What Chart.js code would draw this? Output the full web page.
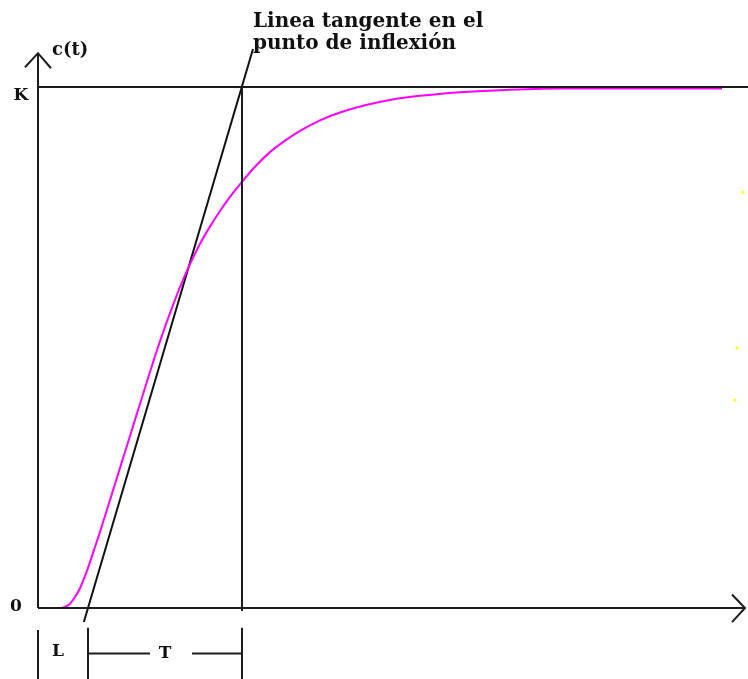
<!DOCTYPE html>
<html>
<head>
<meta charset="utf-8">
<script src="https://cdn.jsdelivr.net/npm/chart.js@4/dist/chart.umd.min.js"></script>
<style>
html,body{margin:0;padding:0;background:#fff;}
#wrap{width:748px;height:679px;position:relative;}
canvas{display:block;}
</style>
</head>
<body>
<div id="wrap"><canvas id="c" width="748" height="679"></canvas></div>
<script>
// ---- Data (time t in units of L, response c(t) normalized to K = 1) ----
const curveT = [0, 0.44, 0.54, 0.64, 0.74, 0.84, 0.94, 1.04, 1.14, 1.24, 1.44, 1.64, 1.84, 2.04, 2.24, 2.44, 2.64, 2.84, 3.04, 3.24, 3.44, 3.64, 3.84, 4.08, 4.34, 4.64, 4.94, 5.24, 5.64, 6.04, 6.54, 7.04, 7.64, 8.44, 9.24, 10.44, 12.04, 13.68];
const curveC = [0, 0, 0.002, 0.008, 0.021, 0.038, 0.061, 0.088, 0.117, 0.146, 0.207, 0.269, 0.330, 0.392, 0.453, 0.512, 0.566, 0.616, 0.660, 0.699, 0.732, 0.762, 0.789, 0.818, 0.847, 0.875, 0.897, 0.916, 0.936, 0.951, 0.965, 0.975, 0.983, 0.990, 0.994, 0.997, 0.997, 0.997];

const tangentT = [0.917, 4.30];
const tangentC = [-0.027, 1.073];

const K = 1;
const L = 1;
const T = 3.08;

const yAxisT = [0, 0];
const yAxisC = [0, 1.065];
const yArrowT = [-0.26, 0, 0.26];
const yArrowC = [1.038, 1.065, 1.036];

const xAxisT = [0, 14.14];
const xAxisC = [0, 0];
const xArrowT = [13.88, 14.14, 13.88];
const xArrowC = [0.026, 0, -0.027];

const kLineT = [0, 14.2];

const markLowC = [-0.038, -0.137];
const tBarC = -0.0873;
const tBarLeftT = [L, 2.24];
const tBarRightT = [3.08, L + T];

const strayT = [14.1, 13.98, 13.94];
const strayC = [0.798, 0.499, 0.399];

const labelTexts = ["c(t)", "K", "0", "L", "T", "Linea tangente en el", "punto de inflexión"];
const labelT = [0.28, -0.34, -0.44, 0.40, 2.54, 4.30, 4.30];
const labelC = [1.061, 0.983, 0.002, -0.0845, -0.0873, 1.115, 1.073];

// ---- helpers ----
const pts = (xs, ys) => xs.map((x, i) => ({x: x, y: Array.isArray(ys) ? ys[i] : ys}));
const INK = '#1c1c1c';
function seg(data, color, width) {
  return {data: data, showLine: true, borderColor: color || INK, borderWidth: width || 2,
          pointRadius: 0, pointHoverRadius: 0, fill: false, tension: 0};
}

const datasets = [
  seg(pts(yAxisT, yAxisC)),
  seg(pts(yArrowT, yArrowC)),
  seg(pts(xAxisT, xAxisC)),
  seg(pts(xArrowT, xArrowC)),
  seg(pts(kLineT, K)),
  seg(pts([L + T, L + T], [K, -0.006])),
  seg(pts([L + T, L + T], markLowC)),
  seg(pts([0, 0], [-0.042, -0.137])),
  seg(pts([L, L], markLowC)),
  seg(pts(tBarLeftT, tBarC)),
  seg(pts(tBarRightT, tBarC)),
  Object.assign(seg(pts(curveT, curveC), '#ff00ff', 2), {cubicInterpolationMode: 'monotone'}),
  seg(pts(tangentT, tangentC), '#111', 2),
  {data: pts(strayT, strayC), showLine: false, pointRadius: 1.5, pointHoverRadius: 0, pointBorderWidth: 0,
   backgroundColor: '#ffff00', borderColor: '#ffff00'}
];

const textPlugin = {
  id: 'texts',
  afterDatasetsDraw(chart) {
    const ctx = chart.ctx, xs = chart.scales.x, ys = chart.scales.y;
    ctx.save();
    ctx.fillStyle = '#111';
    labelTexts.forEach((txt, i) => {
      const px = xs.getPixelForValue(labelT[i]);
      const py = ys.getPixelForValue(labelC[i]);
      if (i >= 5) {
        ctx.font = "bold 20px 'DejaVu Serif'";
        ctx.textAlign = 'left';
        ctx.textBaseline = 'alphabetic';
        ctx.fillText(txt, px, py, i === 5 ? 236 : 211);
      } else if (i === 0) {
        ctx.font = "bold 18px 'DejaVu Serif'";
        ctx.textAlign = 'left';
        ctx.textBaseline = 'alphabetic';
        ctx.fillText(txt, px, py, 39);
      } else {
        ctx.font = "bold 17px 'DejaVu Serif'";
        ctx.textAlign = 'center';
        ctx.textBaseline = 'middle';
        ctx.fillText(txt, px, py);
      }
    });
    ctx.restore();
  }
};

new Chart(document.getElementById('c'), {
  type: 'scatter',
  data: {datasets: datasets},
  options: {
    responsive: false,
    animation: false,
    events: [],
    layout: {padding: 0, autoPadding: false},
    plugins: {legend: {display: false}, tooltip: {enabled: false}},
    scales: {
      x: {type: 'linear', min: -0.76, max: 14.2, display: false},
      y: {type: 'linear', min: -0.13628, max: 1.16699, display: false}
    }
  },
  plugins: [textPlugin]
});
</script>
</body>
</html>
